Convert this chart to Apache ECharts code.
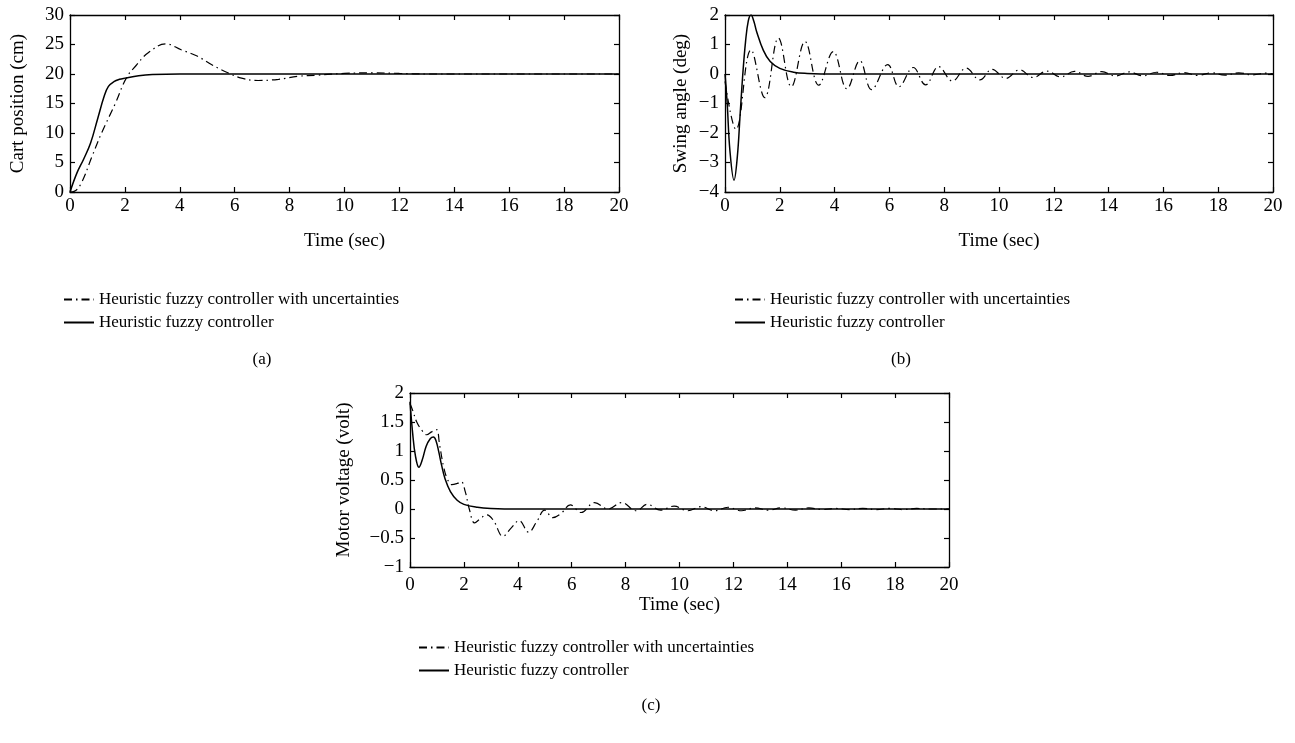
<!DOCTYPE html>
<html>
<head>
<meta charset="utf-8">
<script src="https://cdn.jsdelivr.net/npm/echarts@6/dist/echarts.min.js"></script>
<style>
  html, body { margin: 0; padding: 0; background: #fff; }
  #chart { width: 1295px; height: 743px; }
</style>
</head>
<body>
<div id="chart"></div>
<script>
const seriesNames = ['Heuristic fuzzy controller with uncertainties', 'Heuristic fuzzy controller'];
const panelLabels = ['(a)', '(b)', '(c)'];
const yNames = ['Cart position (cm)', 'Swing angle (deg)', 'Motor voltage (volt)'];

// (a) cart position
const tCartUnc = [0, 0.15, 0.4, 0.8, 1.15, 1.65, 2.05, 2.4, 2.85, 3.5, 4.05, 4.65, 5.15, 5.75, 6.25, 6.85, 7.6, 8.3, 9.0, 10.0, 11.0, 12.0, 13.0, 20];
const cartUnc = [0, 0.1, 1.4, 6.0, 10.0, 15.0, 19.3, 21.4, 23.6, 25.1, 24.1, 23.0, 21.6, 20.2, 19.3, 18.9, 19.1, 19.6, 19.8, 20.1, 20.2, 20.1, 20.0, 20.0];
const tCart = [0, 0.25, 0.5, 0.75, 1.0, 1.25, 1.4, 1.6, 1.8, 2.0, 2.5, 3.0, 4.0, 20];
const cart = [0, 3.2, 5.6, 8.3, 12.3, 16.3, 17.9, 18.7, 19.1, 19.3, 19.7, 19.9, 20, 20];

// (b) swing angle
const tSwingUnc = [0, 0.4, 0.95, 1.45, 1.95, 2.42, 2.92, 3.42, 3.95, 4.45, 4.92, 5.35, 5.94, 6.35, 6.87, 7.32, 7.8, 8.3, 8.8, 9.3, 9.75, 10.25, 10.75, 11.25, 11.75, 12.25, 12.75, 13.25, 13.75, 14.25, 14.75, 15.25, 15.75, 16.25, 16.75, 17.25, 17.75, 18.25, 18.75, 19.25, 19.75, 20];
const swingUnc = [-0.25, -1.88, 0.82, -0.8, 1.22, -0.43, 1.1, -0.38, 0.76, -0.5, 0.45, -0.53, 0.32, -0.43, 0.22, -0.37, 0.25, -0.24, 0.2, -0.2, 0.16, -0.15, 0.14, -0.12, 0.1, -0.1, 0.09, -0.08, 0.08, -0.07, 0.07, -0.06, 0.06, -0.05, 0.05, -0.05, 0.04, -0.04, 0.04, -0.03, 0.03, 0];
const tSwing = [0, 0.08, 0.18, 0.33, 0.45, 0.55, 0.65, 0.75, 0.85, 0.95, 1.05, 1.15, 1.4, 1.65, 2.0, 2.5, 3.0, 4.0, 20];
const swing = [0, -1.0, -2.6, -3.6, -2.8, -1.4, 0.0, 1.1, 1.8, 2.0, 1.8, 1.45, 0.8, 0.42, 0.19, 0.06, 0.02, 0, 0];

// (c) motor voltage
const tVoltUnc = [0, 0.1, 0.25, 0.45, 0.62, 0.8, 0.98, 1.1, 1.25, 1.4, 1.55, 1.75, 1.9, 2.05, 2.2, 2.4, 2.6, 2.85, 3.1, 3.45, 3.75, 4.05, 4.4, 4.7, 5.0, 5.3, 5.6, 5.95, 6.35, 6.85, 7.35, 7.85, 8.4, 8.8, 9.3, 9.8, 10.3, 10.8, 11.3, 11.8, 12.3, 12.8, 13.3, 13.8, 14.3, 14.8, 15.3, 15.8, 16.3, 16.8, 17.3, 17.8, 18.3, 18.8, 19.3, 19.8, 20];
const voltUnc = [1.82, 1.7, 1.5, 1.35, 1.28, 1.33, 1.37, 1.1, 0.72, 0.5, 0.42, 0.44, 0.47, 0.3, 0.0, -0.24, -0.17, -0.1, -0.2, -0.47, -0.33, -0.2, -0.4, -0.22, -0.02, -0.15, -0.08, 0.07, -0.06, 0.11, 0.0, 0.11, -0.03, 0.08, -0.02, 0.05, -0.03, 0.04, -0.03, 0.03, -0.03, 0.02, -0.02, 0.02, -0.02, 0.02, -0.01, 0.01, -0.01, 0.01, -0.01, 0.01, -0.01, 0.01, 0, 0, 0];
const tVolt = [0, 0.1, 0.2, 0.33, 0.45, 0.6, 0.75, 0.87, 0.97, 1.07, 1.17, 1.3, 1.5, 1.75, 2.0, 2.5, 3.0, 4.0, 20];
const volt = [1.85, 1.3, 0.92, 0.72, 0.84, 1.08, 1.21, 1.24, 1.17, 0.98, 0.76, 0.52, 0.3, 0.15, 0.08, 0.03, 0.01, 0, 0];

const yRanges = [[0, 30, 5], [-4, 2, 1], [-1, 2, 0.5]];

const FONT = "'Liberation Serif', 'DejaVu Serif', serif";
const zip = (xs, ys) => xs.map((x, i) => [x, ys[i]]);

const grids = [
    { left: 70, top: 15, width: 549, height: 177 },
    { left: 725, top: 15, width: 548, height: 177 },
    { left: 410, top: 393, width: 539, height: 174 }
];
const yNameGap = [42, 34, 56];
const xLabelMargin = [5, 5, 9];
const xNameGap = [40, 40, 25];

const axisLineStyle = { onZero: false, lineStyle: { color: '#000', width: 1.3 } };
const tickStyle = { inside: true, length: 5, lineStyle: { color: '#000', width: 1.2 } };
const labelText = { color: '#000', fontFamily: FONT, fontSize: 19 };
const minus = v => String(v).replace('-', '\u2212');

const xAxes = [];
const yAxes = [];
grids.forEach((g, i) => {
    xAxes.push({
        type: 'value', gridIndex: i, min: 0, max: 20, interval: 2,
        name: 'Time (sec)', nameLocation: 'middle', nameGap: xNameGap[i],
        nameTextStyle: labelText,
        axisLine: axisLineStyle, axisTick: tickStyle,
        axisLabel: Object.assign({ margin: xLabelMargin[i] }, labelText),
        splitLine: { show: false }
    });
    yAxes.push({
        type: 'value', gridIndex: i, min: yRanges[i][0], max: yRanges[i][1], interval: yRanges[i][2],
        name: yNames[i], nameLocation: 'middle', nameGap: yNameGap[i],
        nameTextStyle: labelText,
        axisLine: axisLineStyle, axisTick: tickStyle,
        axisLabel: Object.assign({ margin: 6, formatter: minus }, labelText),
        splitLine: { show: false }
    });
});
// mirrored top / right axes to close the box
grids.forEach((g, i) => {
    xAxes.push({
        type: 'value', gridIndex: i, position: 'top', min: 0, max: 20, interval: 2,
        axisLine: axisLineStyle, axisTick: tickStyle,
        axisLabel: { show: false }, splitLine: { show: false }
    });
    yAxes.push({
        type: 'value', gridIndex: i, position: 'right', min: yRanges[i][0], max: yRanges[i][1], interval: yRanges[i][2],
        axisLine: axisLineStyle, axisTick: tickStyle,
        axisLabel: { show: false }, splitLine: { show: false }
    });
});

const panels = [
    [zip(tCartUnc, cartUnc), zip(tCart, cart)],
    [zip(tSwingUnc, swingUnc), zip(tSwing, swing)],
    [zip(tVoltUnc, voltUnc), zip(tVolt, volt)]
];

const series = [];
panels.forEach((p, i) => {
    series.push({
        name: seriesNames[0], type: 'line', xAxisIndex: i, yAxisIndex: i,
        data: p[0], smooth: 0.4, symbol: 'none', color: '#000',
        lineStyle: { color: '#000', width: 1.2, type: [8, 4, 1.5, 4] }
    });
    series.push({
        name: seriesNames[1], type: 'line', xAxisIndex: i, yAxisIndex: i,
        data: p[1], smooth: 0.4, symbol: 'none', color: '#000',
        lineStyle: { color: '#000', width: 1.5, type: 'solid' }
    });
});

const legendPos = [[58, 286], [729, 286], [413, 634]];
const legends = legendPos.map(pos => ({
    left: pos[0], top: pos[1], orient: 'vertical', itemGap: 6,
    itemWidth: 30, itemHeight: 14, selectedMode: false,
    data: seriesNames,
    itemStyle: { opacity: 0 },
    textStyle: { color: '#000', fontFamily: FONT, fontSize: 17 }
}));

const titlePos = [[257, 346], [896, 346], [646, 692]];
const titles = titlePos.map((pos, i) => ({
    text: panelLabels[i], left: pos[0], top: pos[1], textAlign: 'center',
    textStyle: { color: '#000', fontFamily: FONT, fontSize: 17, fontWeight: 'normal' }
}));

const chart = echarts.init(document.getElementById('chart'));
chart.setOption({
    animation: false,
    backgroundColor: '#fff',
    title: titles,
    legend: legends,
    grid: grids,
    xAxis: xAxes,
    yAxis: yAxes,
    series: series
});
</script>
</body>
</html>
